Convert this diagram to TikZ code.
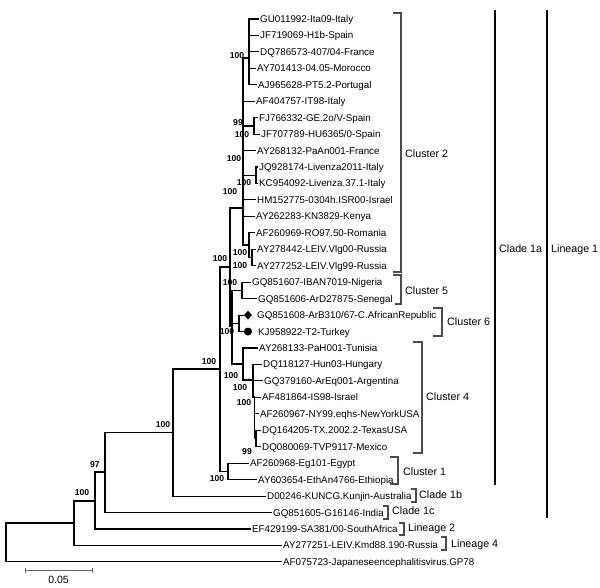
\documentclass[tikz,border=0pt]{standalone}
\usepackage{fontspec}
\setmainfont{Liberation Sans}
\usetikzlibrary{shapes.geometric}
\begin{document}
\begin{tikzpicture}[x=1pt,y=-1pt,
  br/.style={line width=1.1pt, black},
  leaf/.style={anchor=west, inner xsep=1.5pt, inner ysep=0pt, text height=7pt, text depth=0pt, font=\fontsize{9.8}{10}\selectfont},
  bs/.style={font=\fontsize{8.6}{9}\selectfont\bfseries, inner sep=0pt},
  grp/.style={font=\fontsize{10.7}{11}\selectfont, anchor=west, inner sep=0pt, text height=7.7pt, text depth=0pt},
  brk/.style={line width=1.1pt, black!70},
  cl/.style={line width=1.8pt, black}]
\useasboundingbox (0,0) rectangle (600,588);
% leaves
\node[leaf] (l1) at (258.5,19) {GU011992-Ita09-Italy};
\node[leaf] (l2) at (258.5,35.45) {JF719069-H1b-Spain};
\node[leaf] (l3) at (258.5,51.9) {DQ786573-407/04-France};
\node[leaf] (l4) at (255.5,68.35) {AY701413-04.05-Morocco};
\node[leaf] (l5) at (256.5,84.8) {AJ965628-PT5.2-Portugal};
\node[leaf] (l6) at (254.5,101.25) {AF404757-IT98-Italy};
\node[leaf] (l7) at (257.5,117.7) {FJ766332-GE.2o/V-Spain};
\node[leaf] (l8) at (259.5,134.15) {JF707789-HU6365/0-Spain};
\node[leaf] (l9) at (255.5,150.6) {AY268132-PaAn001-France};
\node[leaf] (l10) at (257.5,167.05) {JQ928174-Livenza2011-Italy};
\node[leaf] (l11) at (257.5,183.5) {KC954092-Livenza.37.1-Italy};
\node[leaf] (l12) at (255.5,199.95) {HM152775-0304h.ISR00-Israel};
\node[leaf] (l13) at (254.5,216.4) {AY262283-KN3829-Kenya};
\node[leaf] (l14) at (254.5,232.85) {AF260969-RO97.50-Romania};
\node[leaf] (l15) at (255.5,249.3) {AY278442-LEIV.Vlg00-Russia};
\node[leaf] (l16) at (255.5,265.75) {AY277252-LEIV.Vlg99-Russia};
\node[leaf] (l17) at (250.5,282.2) {GQ851607-IBAN7019-Nigeria};
\node[leaf] (l18) at (256.5,298.65) {GQ851606-ArD27875-Senegal};
\node[draw, fill, diamond, inner sep=0pt, minimum width=7.5pt, minimum height=8pt] (m19) at (248,315.1) {};
\node[draw, fill, circle, inner sep=0pt, minimum size=7.5pt] (m20) at (248,331.55) {};
\node[leaf] (l19) at (255.5,315.1) {GQ851608-ArB310/67-C.AfricanRepublic};
\node[leaf] (l20) at (256.5,331.55) {KJ958922-T2-Turkey};
\node[leaf] (l21) at (257.5,348) {AY268133-PaH001-Tunisia};
\node[leaf] (l22) at (261.5,364.45) {DQ118127-Hun03-Hungary};
\node[leaf] (l23) at (262.5,380.9) {GQ379160-ArEq001-Argentina};
\node[leaf] (l24) at (260.5,397.35) {AF481864-IS98-Israel};
\node[leaf] (l25) at (258.5,413.8) {AF260967-NY99.eqhs-NewYorkUSA};
\node[leaf] (l26) at (260.5,430.25) {DQ164205-TX.2002.2-TexasUSA};
\node[leaf] (l27) at (260.5,446.7) {DQ080069-TVP9117-Mexico};
\node[leaf] (l28) at (248.5,463.15) {AF260968-Eg101-Egypt};
\node[leaf] (l29) at (256.5,479.6) {AY603654-EthAn4766-Ethiopia};
\node[leaf] (l30) at (265.5,496.05) {D00246-KUNCG.Kunjin-Australia};
\node[leaf] (l31) at (271.5,512.5) {GQ851605-G16146-India};
\node[leaf] (l32) at (250.5,528.95) {EF429199-SA381/00-SouthAfrica};
\node[leaf] (l33) at (281.5,545.4) {AY277251-LEIV.Kmd88.190-Russia};
\node[leaf] (l34) at (281.5,561.85) {AF075723-Japaneseencephalitisvirus.GP78};
% internal nodes
\coordinate (root) at (6,542);
\coordinate (n74) at (74,523);
\coordinate (n95) at (95,501);
\coordinate (n105) at (105,472);
\coordinate (n173) at (173,432.5);
\coordinate (n220) at (220,369);
\coordinate (c1) at (228,471.4);
\coordinate (q) at (230,267);
\coordinate (r) at (232,326);
\coordinate (c5) at (242,290.4);
\coordinate (c6) at (239,323.3);
\coordinate (c4) at (243,364);
\coordinate (n4a) at (253,380);
\coordinate (n4b) at (254.5,397);
\coordinate (n4c) at (256,438.5);
\coordinate (c2) at (243,208);
\coordinate (t) at (249,58);
\coordinate (f) at (254,126);
\coordinate (j) at (256,175.3);
\coordinate (a) at (249,245);
\coordinate (b) at (252,257.5);
% branches
\draw[br] (root) |- (l34.west) (root) |- (n74);
\draw[br] (n74) |- (l33.west) (n74) |- (n95);
\draw[br] (n95) |- (l32.west) (n95) |- (n105);
\draw[br] (n105) |- (l31.west) (n105) |- (n173);
\draw[br] (n173) |- (l30.west) (n173) |- (n220);
\draw[br] (n220) |- (q) (n220) |- (c1);
\draw[br] (c1) |- (l28.west) (c1) |- (l29.west);
\draw[br] (q) |- (c2) (q) |- (r);
\draw[br] (r) |- (c5) (r) |- (c6) (r) |- (c4);
\draw[br] (c5) |- (l17.west) (c5) |- (l18.west);
\draw[br] (c6) |- (m19.west) (c6) |- (m20.west);
\draw[br] (c4) |- (l21.west) (c4) |- (n4a);
\draw[br] (n4a) |- (l22.west) (n4a) |- (l23.west) (n4a) |- (n4b);
\draw[br] (n4b) |- (l24.west) (n4b) |- (l25.west) (n4b) |- (n4c);
\draw[br] (n4c) |- (l26.west) (n4c) |- (l27.west);
\draw[br] (c2) |- (t) (c2) |- (l6.west) (c2) |- (f) (c2) |- (l9.west) (c2) |- (j) (c2) |- (l12.west) (c2) |- (l13.west) (c2) |- (a);
\draw[br] (t) |- (l1.west) (t) |- (l2.west) (t) |- (l3.west) (t) |- (l4.west) (t) |- (l5.west);
\draw[br] (f) |- (l7.west) (f) |- (l8.west);
\draw[br] (j) |- (l10.west) (j) |- (l11.west);
\draw[br] (a) |- (l14.west) (a) |- (b);
\draw[br] (b) |- (l15.west) (b) |- (l16.west);
% bootstrap values
\node[bs] (b1) at (237,56) {100};
\node[bs] (b2) at (238,123) {99};
\node[bs] (b3) at (242,135) {100};
\node[bs] (b4) at (234,159) {100};
\node[bs] (b5) at (244,183) {100};
\node[bs] (b6) at (230,192) {100};
\node[bs] (b7) at (240,253) {100};
\node[bs] (b8) at (220,259) {100};
\node[bs] (b9) at (240,266) {100};
\node[bs] (b10) at (230,283) {100};
\node[bs] (b11) at (227,332) {100};
\node[bs] (b12) at (209,362) {100};
\node[bs] (b13) at (231,376) {100};
\node[bs] (b14) at (240,388) {100};
\node[bs] (b15) at (244,403) {100};
\node[bs] (b16) at (247,452) {99};
\node[bs] (b17) at (217,479) {100};
\node[bs] (b18) at (163,425) {100};
\node[bs] (b19) at (95,465) {97};
\node[bs] (b20) at (82,493) {100};
% brackets
\draw[brk] (393,13) -- (401,13) -- (401,272) -- (393,272);
\node[grp] (g2) at (405,154) {Cluster 2};
\draw[brk] (393,275) -- (401,275) -- (401,304) -- (395,304);
\node[grp] (g5) at (405,291) {Cluster 5};
\draw[brk] (433,308) -- (442,308) -- (442,336) -- (433,336);
\node[grp] (g6) at (447,322) {Cluster 6};
\draw[brk] (413,342) -- (422,342) -- (422,453) -- (413,453);
\node[grp] (g4) at (426,397) {Cluster 4};
\draw[brk] (390,457) -- (398,457) -- (398,484) -- (390,484);
\node[grp] (g1) at (403,472) {Cluster 1};
\draw[brk] (411,489) -- (416,489) -- (416,502) -- (411,502);
\node[grp] (g1b) at (419,495) {Clade 1b};
\draw[brk] (383,506) -- (388,506) -- (388,519) -- (383,519);
\node[grp] (g1c) at (392,511) {Clade 1c};
\draw[brk] (399,523) -- (404,523) -- (404,535) -- (399,535);
\node[grp] (gl2) at (408,528) {Lineage 2};
\draw[brk] (441,537) -- (446,537) -- (446,550) -- (441,550);
\node[grp] (gl4) at (451,544) {Lineage 4};
\draw[cl] (495,10) -- (495,485);
\node[grp] (g1a) at (499,249) {Clade 1a};
\draw[cl] (547,10) -- (547,518);
\node[grp] (gl1) at (551,249) {Lineage 1};
% scale bar
\draw[line width=1pt, black!60] (25,568) -- (25,573) (25,570.7) -- (92,570.7) (92,568) -- (92,573);
\node[font=\fontsize{10.5}{11}\selectfont, inner sep=0pt] (sb) at (58.5,580) {0.05};
\end{tikzpicture}
\end{document}
